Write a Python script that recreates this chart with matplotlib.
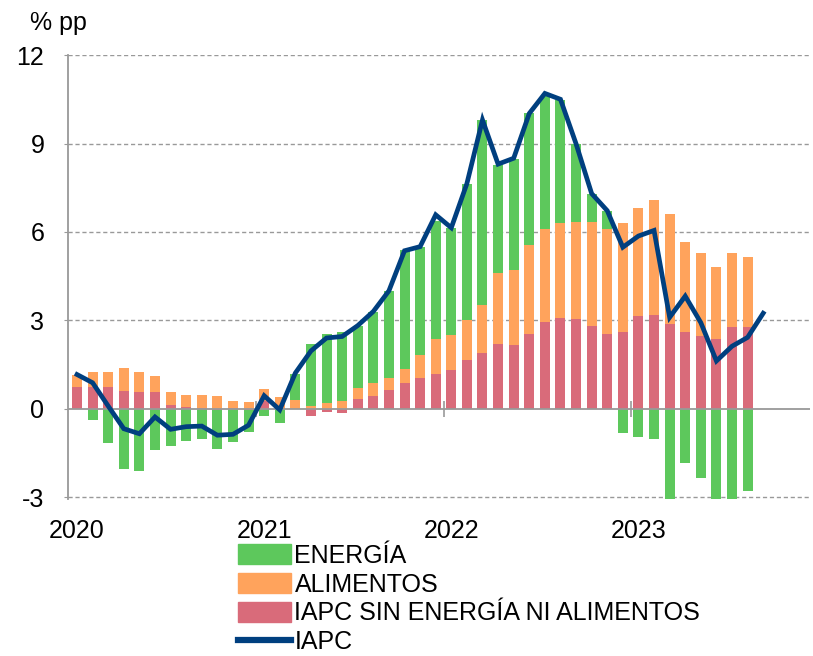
import numpy as np
import matplotlib
matplotlib.use('Agg')
import matplotlib.pyplot as plt
from matplotlib.patches import Patch
from matplotlib.lines import Line2D

plt.rcParams['font.family'] = ['Liberation Sans', 'DejaVu Sans']
plt.rcParams['axes.unicode_minus'] = False

# monthly data, Jan 2020 - Aug 2023 (bars), line runs to Sep 2023
year_labels = ['2020', '2021', '2022', '2023']

core = [0.73, 0.74, 0.73, 0.60, 0.58, 0.56, 0.11, 0.06, 0.01, -0.05, 0.01, -0.05,
        0.25, 0.02, 0.00, -0.26, -0.12, -0.15, 0.32, 0.42, 0.62, 0.86, 1.03, 1.18,
        1.33, 1.64, 1.88, 2.20, 2.16, 2.53, 2.94, 3.07, 3.04, 2.80, 2.55, 2.61,
        3.13, 3.18, 2.88, 2.61, 2.45, 2.38, 2.77, 2.76]
food = [0.41, 0.51, 0.50, 0.77, 0.67, 0.54, 0.44, 0.41, 0.44, 0.44, 0.26, 0.23,
        0.42, 0.36, 0.30, 0.10, 0.20, 0.26, 0.39, 0.44, 0.42, 0.50, 0.80, 1.18,
        1.16, 1.36, 1.65, 2.39, 2.56, 3.02, 3.17, 3.22, 3.31, 3.52, 3.55, 3.68,
        3.68, 3.89, 3.72, 3.04, 2.83, 2.42, 2.50, 2.40]
energy = [0.00, -0.38, -1.15, -2.03, -2.10, -1.39, -1.28, -1.08, -1.02, -1.31, -1.13, -0.74,
          -0.26, -0.50, 0.89, 2.09, 2.33, 2.34, 2.11, 2.42, 2.97, 4.01, 3.67, 4.01,
          3.65, 4.64, 6.26, 3.69, 3.75, 4.48, 4.51, 4.20, 2.64, 0.98, 0.60, -0.82,
          -0.97, -1.04, -3.50, -1.85, -2.36, -3.20, -3.17, -2.78]
iapc = [1.16, 0.88, 0.09, -0.68, -0.85, -0.28, -0.70, -0.61, -0.59, -0.90, -0.87, -0.56,
        0.44, -0.04, 1.21, 1.96, 2.40, 2.45, 2.82, 3.30, 4.00, 5.36, 5.50, 6.58,
        6.14, 7.64, 9.80, 8.30, 8.50, 10.02, 10.70, 10.50, 8.99, 7.30, 6.72, 5.48,
        5.86, 6.05, 3.10, 3.82, 2.92, 1.62, 2.12, 2.42, 3.24]

c_energy = '#5DC85C'
c_food = '#FFA35C'
c_core = '#D96B7A'
c_iapc = '#003F7F'

fig = plt.figure(figsize=(8.13, 6.56), dpi=100)
ax = fig.add_axes([0.0836, 0.240, 0.9127, 0.676])

x = np.arange(len(core))
pos = np.zeros(len(x))
neg = np.zeros(len(x))
# stack positives upward and negatives downward
for vals, col in [(core, c_core), (food, c_food), (energy, c_energy)]:
    v = np.array(vals)
    bottom = np.where(v >= 0, pos, neg)
    ax.bar(x, v, bottom=bottom, width=0.64, color=col, zorder=2)
    pos += np.clip(v, 0, None)
    neg += np.clip(v, None, 0)

ax.plot(np.arange(len(iapc)), iapc, color=c_iapc, lw=3.4, zorder=4,
        solid_joinstyle='miter')

ax.axhline(0, color='#999999', lw=1.3, zorder=3)
for yv in [-3, 3, 6, 9, 12]:
    ax.axhline(yv, color='#999999', lw=1, ls=(0, (3, 2)), zorder=1)
# year separators at the zero line
ax.vlines([11.5, 23.5, 35.5], -0.27, 0.27, color='#999999', lw=1.2, zorder=3)

ax.set_xlim(-0.58, 47.0)
ax.set_ylim(-3.05, 12)
ax.set_yticks([-3, 0, 3, 6, 9, 12])
ax.set_xticks([0, 12, 24, 36])
ax.set_xticklabels(year_labels)
for s in ['top', 'right', 'bottom']:
    ax.spines[s].set_visible(False)
ax.spines['left'].set_color('#999999')
ax.spines['left'].set_linewidth(1.3)
ax.tick_params(axis='y', length=3, color='#999999', pad=14, labelsize=18)
ax.tick_params(axis='x', length=0, pad=15, labelsize=18)

fig.text(0.037, 0.965, '% pp', fontsize=18, va='center', ha='left')

handles = [Patch(color=c_energy), Patch(color=c_food), Patch(color=c_core),
           Line2D([], [], color=c_iapc, lw=4.5)]
labels = ['ENERGÍA', 'ALIMENTOS', 'IAPC SIN ENERGÍA NI ALIMENTOS', 'IAPC']
fig.legend(handles, labels, loc='upper left', bbox_to_anchor=(0.293, 0.171),
           frameon=False, fontsize=18, handlelength=2.1, handleheight=0.85,
           handletextpad=0.15, labelspacing=0.19, borderpad=0, borderaxespad=0)

fig.savefig('out.png', dpi=100)
